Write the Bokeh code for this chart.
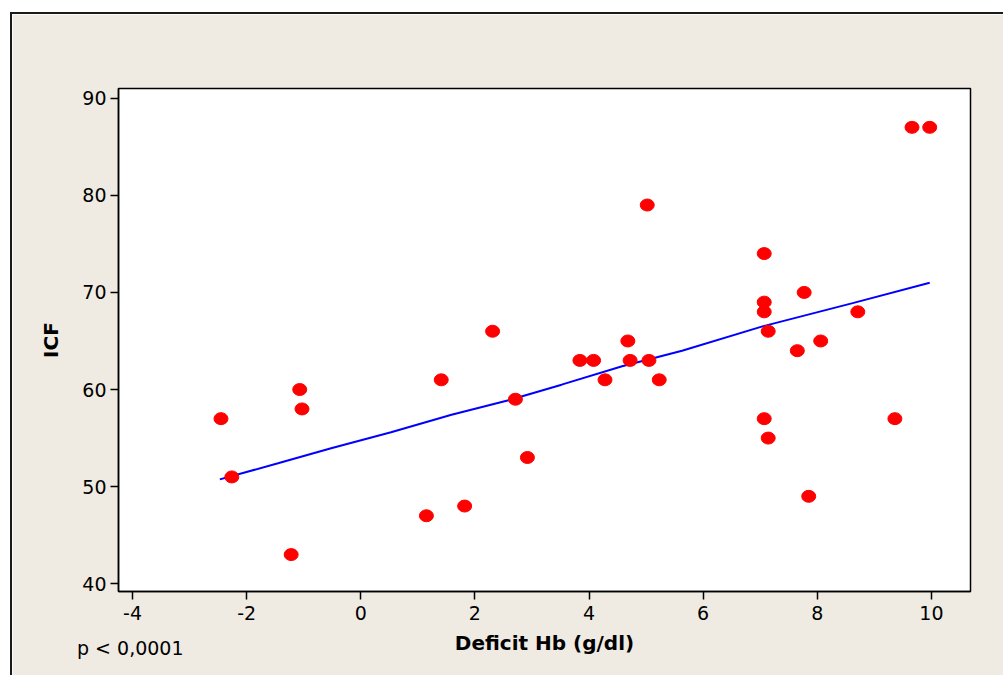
import html
from bokeh.plotting import figure
from bokeh.layouts import column
from bokeh.models import Range1d, FixedTicker, Div
from bokeh.embed import file_html
from bokeh.resources import INLINE

# Data
deficit_hb = [-2.45, -2.26, -1.22, -1.07, -1.03, 1.15, 1.41, 1.82, 2.31, 2.71, 2.92,
              3.84, 4.08, 4.28, 4.68, 4.72, 5.02, 5.05, 5.23, 7.07, 7.07, 7.07, 7.14,
              7.07, 7.14, 7.65, 7.77, 7.85, 8.06, 8.71, 9.36, 9.66, 9.97]
icf = [57, 51, 43, 60, 58, 47, 61, 48, 66, 59, 53,
       63, 63, 61, 65, 63, 79, 63, 61, 74, 69, 68, 66,
       57, 55, 64, 70, 49, 65, 68, 57, 87, 87]

# fitted line as drawn in the reference
fit_x = [-2.47, -1.45, -0.52, 0.53, 1.59, 2.59, 3.52, 4.58, 5.63, 7.04, 8.62, 9.97]
fit_y = [50.75, 52.4, 53.96, 55.6, 57.4, 58.9, 60.5, 62.4, 64.0, 66.5, 68.9, 71.0]

x_ticks = [-4, -2, 0, 2, 4, 6, 8, 10]
x_tick_labels = ["-4", "-2", "0", "2", "4", "6", "8", "10"]
y_ticks = [40, 50, 60, 70, 80, 90]

x_label = "Deficit Hb (g/dl)"
y_label = "ICF"
note = "p < 0,0001"

BG = "#EFEBE2"
FONT = "DejaVu Sans"

p = figure(frame_width=850, frame_height=501,
           min_border_left=106, min_border_right=35,
           min_border_top=74, min_border_bottom=86,
           x_range=Range1d(-4.246, 10.685), y_range=Range1d(39.2, 91.0),
           output_backend="svg", toolbar_location=None)
p.margin = (12, 0, 0, 10)
p.styles = {"border-left": "2px solid #1a1a1a", "border-top": "2px solid #1a1a1a"}

p.background_fill_color = "white"
p.border_fill_color = BG
p.outline_line_color = "black"
p.outline_line_width = 1.5
p.xgrid.visible = False
p.ygrid.visible = False

for ax in (p.xaxis[0], p.yaxis[0]):
    ax.axis_line_color = "black"
    ax.axis_line_width = 1.5
    ax.major_tick_line_color = "black"
    ax.major_tick_line_width = 1.5
    ax.major_tick_out = 8
    ax.major_tick_in = 0
    ax.minor_tick_line_color = None
    ax.major_label_text_font = FONT
    ax.major_label_text_font_size = "19px"
    ax.major_label_text_color = "black"
    ax.axis_label_text_font = FONT
    ax.axis_label_text_font_size = "20px"
    ax.axis_label_text_font_style = "bold"
    ax.axis_label_text_color = "black"

p.xaxis.ticker = FixedTicker(ticks=x_ticks)
p.xaxis.major_label_overrides = {t: s for t, s in zip(x_ticks, x_tick_labels)}
p.yaxis.ticker = FixedTicker(ticks=y_ticks)
p.xaxis.axis_label = x_label
p.yaxis.axis_label = y_label
p.xaxis.major_label_standoff = 6
p.yaxis.major_label_standoff = 4
p.xaxis.axis_label_standoff = 8
p.yaxis.axis_label_standoff = 16

p.line(fit_x, fit_y, line_color="#0000FF", line_width=2)
p.ellipse(deficit_hb, icf, width=14, height=12, width_units="screen", height_units="screen",
          fill_color="#FF0000", line_color="#FF0000")

note_div = Div(text=html.escape(note), margin=(-38, 0, 20, 77),
               styles={"font-family": FONT, "font-size": "19px", "color": "black",
                       "line-height": "22px", "white-space": "nowrap",
                       "position": "relative", "z-index": "10"})

layout = column(p, note_div, spacing=0)

open("out.html", "w").write(file_html(layout, INLINE))
